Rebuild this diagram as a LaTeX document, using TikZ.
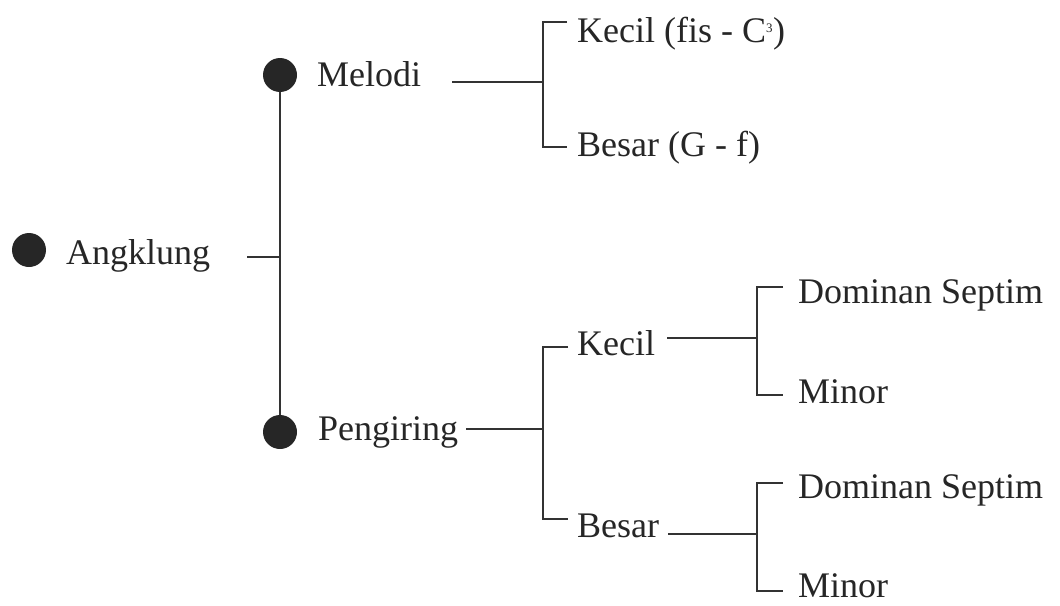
\documentclass[tikz,border=0pt]{standalone}
\usepackage{fontspec}
\setmainfont{Liberation Serif}
\begin{document}
\begin{tikzpicture}[x=1pt,y=-1pt,
  dot/.style={circle,fill=black!85,inner sep=0pt,minimum size=34pt},
  lbl/.style={anchor=base west,inner sep=0pt,text=black!85,font=\fontsize{36}{43}\selectfont},
  conn/.style={draw=black!80,line width=2pt}]
\useasboundingbox (0,0) rectangle (1060,605);
% nodes
\node[dot] (d0) at (29,250) {};
\node[lbl] (ang) at (66,264) {Angklung};
\node[dot] (d1) at (280,75) {};
\node[lbl] (mel) at (317,86) {Melodi};
\node[dot] (d2) at (280,432) {};
\node[lbl] (pen) at (318,440) {Pengiring};
\node[lbl] (mk) at (577,42) {Kecil (fis - C\textsuperscript{\fontsize{13}{13}\selectfont 3})};
\node[lbl] (mb) at (577,156) {Besar (G - f)};
\node[lbl] (pk) at (577,355) {Kecil};
\node[lbl] (pb) at (577,537) {Besar};
\node[lbl] (kd) at (798,303) {Dominan Septim};
\node[lbl] (km) at (798,403) {Minor};
\node[lbl] (bd) at (798,498) {Dominan Septim};
\node[lbl] (bm) at (798,597) {Minor};
% coordinates
\coordinate (a0) at (247,257); \coordinate (j0) at (280,257);
\coordinate (a1) at (452,82);  \coordinate (j1) at (543,82);
\coordinate (t1) at (567,22);  \coordinate (u1) at (567,147);
\coordinate (a2) at (466,429); \coordinate (j2) at (543,429);
\coordinate (t2) at (568,347); \coordinate (u2) at (568,519);
\coordinate (a3) at (667,338); \coordinate (j3) at (757,338);
\coordinate (t3) at (783,287); \coordinate (u3) at (783,395);
\coordinate (a4) at (668,534); \coordinate (j4) at (757,534);
\coordinate (t4) at (783,483); \coordinate (u4) at (783,591);
% connectors
\draw[conn] (d1) -- (d2);
\draw[conn] (a0) -- (j0);
\draw[conn] (a1) -- (j1);
\draw[conn] (t1) -| (j1) |- (u1);
\draw[conn] (a2) -- (j2);
\draw[conn] (t2) -| (j2) |- (u2);
\draw[conn] (a3) -- (j3);
\draw[conn] (t3) -| (j3) |- (u3);
\draw[conn] (a4) -- (j4);
\draw[conn] (t4) -| (j4) |- (u4);
\end{tikzpicture}
\end{document}
